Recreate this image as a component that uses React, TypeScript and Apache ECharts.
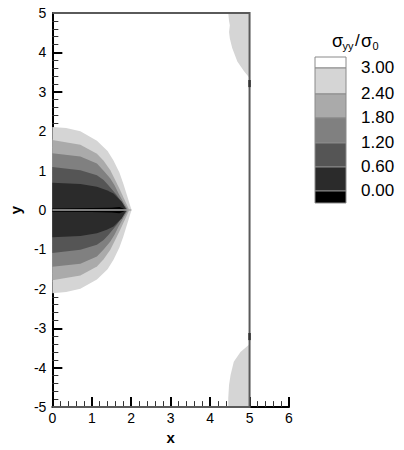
import React, { useEffect, useRef } from "react";
import * as echarts from "echarts";

// contour levels and colours (legend)
const levelLabels = ["3.00", "2.40", "1.80", "1.20", "0.60", "0.00"];
const bandColors = ["#ffffff", "#d5d5d5", "#aaaaaa", "#808080", "#555555", "#2b2b2b", "#000000"];

// upper half of each contour around the crack (x, y); lower half is its mirror
const c300: number[][] = [[0, 2.11], [0.35, 2.08], [0.71, 2.0], [1.13, 1.76], [1.4, 1.5], [1.55, 1.26], [1.7, 0.95], [1.8, 0.67], [1.9, 0.35], [1.97, 0.12], [2.01, 0]];
const c240: number[][] = [[0, 1.78], [0.71, 1.66], [1.13, 1.43], [1.3, 1.25], [1.47, 1.01], [1.6, 0.75], [1.72, 0.5], [1.85, 0.22], [1.95, 0]];
const c180: number[][] = [[0, 1.44], [0.71, 1.36], [1.13, 1.18], [1.3, 1.0], [1.47, 0.8], [1.58, 0.62], [1.68, 0.42], [1.8, 0.2], [1.92, 0]];
const c120: number[][] = [[0, 1.09], [0.71, 1.01], [1.13, 0.88], [1.3, 0.76], [1.42, 0.63], [1.63, 0.38], [1.77, 0.18], [1.9, 0]];
const c060: number[][] = [[0, 0.69], [0.71, 0.66], [1.13, 0.59], [1.38, 0.5], [1.55, 0.42], [1.76, 0.21], [1.88, 0]];
const c000: number[][] = [[0, 0.04], [1.0, 0.05], [1.5, 0.06], [1.7, 0.08], [1.8, 0.04], [1.86, 0]];

// light patches on the right edge
const topPatch: number[][] = [[4.46, 5], [4.48, 4.8], [4.5, 4.69], [4.48, 4.52], [4.5, 4.35], [4.56, 4.11], [4.69, 3.77], [4.86, 3.52], [4.97, 3.39], [5, 3.35], [5, 5]];
const bottomPatch: number[][] = [[5, -3.4], [4.97, -3.43], [4.77, -3.6], [4.6, -3.85], [4.52, -4.18], [4.48, -4.43], [4.46, -4.77], [4.46, -5], [5, -5]];

// domain boundary, crack and small dark marks on the right edge
const boundary: number[][] = [[0, 5], [5, 5], [5, -5], [0, -5]];
const crack: number[][] = [[0, 0], [2.0, 0]];
const notchTop: number[][] = [[5, 3.3], [5, 3.12]];
const notchBottom: number[][] = [[5, -3.12], [5, -3.3]];

const xTicks = { min: 0, max: 6, step: 1 };
const yTicks = { min: -5, max: 5, step: 1 };

function closeHalf(half: number[][]): number[][] {
  const lower = half.slice(0, -1).reverse().map((p) => [p[0], -p[1]]);
  return [...half, ...lower];
}

const polys = [
  { pts: closeHalf(c300), color: bandColors[1] },
  { pts: closeHalf(c240), color: bandColors[2] },
  { pts: closeHalf(c180), color: bandColors[3] },
  { pts: closeHalf(c120), color: bandColors[4] },
  { pts: closeHalf(c060), color: bandColors[5] },
  { pts: closeHalf(c000), color: bandColors[6] },
  { pts: topPatch, color: bandColors[1] },
  { pts: bottomPatch, color: bandColors[1] },
];

const lines = [
  { pts: crack, color: "#a8a8a8", width: 1.5 },
  { pts: boundary, color: "#5a5a5a", width: 2 },
  { pts: notchTop, color: "#333333", width: 2.5 },
  { pts: notchBottom, color: "#333333", width: 2.5 },
];

const FONT = "'Liberation Sans', Arial, Helvetica, sans-serif";

export default function App() {
  const ref = useRef<HTMLDivElement>(null);
  useEffect(() => {
    if (!ref.current) return;
    const chart = echarts.init(ref.current, undefined, { renderer: "svg" });

    const legendX = 315;
    const legendW = 31;
    const cellTops = [57, 68, 94, 118, 143, 167, 191];
    const cellBottom = 203;
    const legendEls: any[] = [];
    bandColors.forEach((c, i) => {
      const top = cellTops[i];
      const bot = i + 1 < cellTops.length ? cellTops[i + 1] : cellBottom;
      legendEls.push({
        type: "rect",
        shape: { x: legendX, y: top, width: legendW, height: bot - top },
        style: { fill: c, stroke: "#8a8a8a", lineWidth: 1 },
      });
    });
    levelLabels.forEach((t, i) => {
      legendEls.push({
        type: "text",
        left: 361,
        top: cellTops[i + 1] - 9,
        style: { text: t, font: `17px ${FONT}`, fill: "#000" },
      });
    });
    // title sigma_yy / sigma_0
    const title = [
      { t: "σ", x: 332, y: 32, size: 18 },
      { t: "yy", x: 342.5, y: 40, size: 11 },
      { t: "/", x: 355, y: 32, size: 17 },
      { t: "σ", x: 361, y: 32, size: 18 },
      { t: "0", x: 372.5, y: 40, size: 11 },
    ];
    title.forEach((p) => {
      legendEls.push({
        type: "text",
        left: p.x,
        top: p.y,
        style: { text: p.t, font: `${p.size}px ${FONT}`, fill: "#000" },
      });
    });

    const axisCommon = {
      axisLine: { show: true, onZero: false, lineStyle: { color: "#000", width: 2 } },
      axisTick: { show: true, inside: true, length: 10, lineStyle: { color: "#000", width: 2 } },
      minorTick: { show: true, splitNumber: 5, length: 6, lineStyle: { color: "#333", width: 1 } },
      splitLine: { show: false },
      minorSplitLine: { show: false },
      axisLabel: { color: "#000", fontFamily: FONT, fontSize: 14 },
      nameTextStyle: { color: "#000", fontFamily: FONT, fontSize: 15, fontWeight: "bold" },
    };

    chart.setOption({
      animation: false,
      grid: { left: 50, top: 13, right: 115, bottom: 38, containLabel: false },
      xAxis: {
        type: "value",
        min: xTicks.min,
        max: xTicks.max,
        interval: xTicks.step,
        name: "x",
        nameLocation: "middle",
        nameGap: 17,
        ...axisCommon,
        axisLabel: { ...axisCommon.axisLabel, margin: 4 },
      },
      yAxis: {
        type: "value",
        min: yTicks.min,
        max: yTicks.max,
        interval: yTicks.step,
        name: "y",
        nameLocation: "middle",
        nameRotate: 90,
        nameGap: 27,
        ...axisCommon,
        axisLabel: { ...axisCommon.axisLabel, margin: 6 },
      },
      series: [
        {
          type: "custom",
          coordinateSystem: "cartesian2d",
          data: polys.map((_, i) => [i]),
          encode: { x: 0, y: 0 },
          clip: false,
          silent: true,
          z: 1,
          renderItem: (params: any, api: any) => {
            const p = polys[params.dataIndex];
            return {
              type: "polygon",
              shape: { points: p.pts.map((q) => api.coord(q)) },
              style: { fill: p.color, stroke: null },
            };
          },
        },
        {
          type: "custom",
          coordinateSystem: "cartesian2d",
          data: lines.map((_, i) => [i]),
          encode: { x: 0, y: 0 },
          clip: false,
          silent: true,
          z: 2,
          renderItem: (params: any, api: any) => {
            const l = lines[params.dataIndex];
            return {
              type: "polyline",
              shape: { points: l.pts.map((q) => api.coord(q)) },
              style: { stroke: l.color, lineWidth: l.width, fill: null },
            };
          },
        },
      ],
      graphic: legendEls,
    });
    return () => chart.dispose();
  }, []);
  return (
    <div
      ref={ref}
      style={{ position: "fixed", left: 0, top: 0, width: 404, height: 450, background: "#fff" }}
    />
  );
}
